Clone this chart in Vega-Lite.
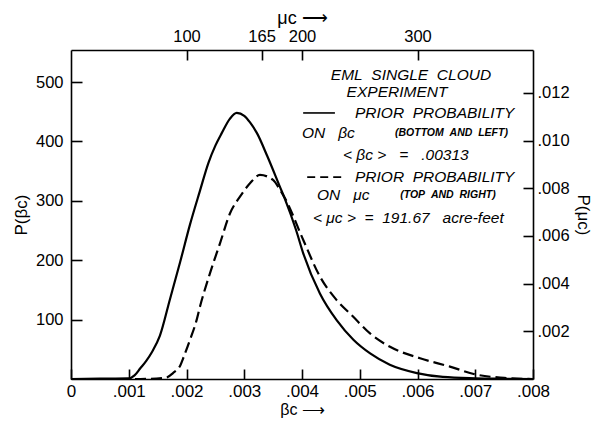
{
  "$schema": "https://vega.github.io/schema/vega-lite/v6.json",
  "width": 462,
  "height": 329,
  "autosize": {"type": "none"},
  "padding": {"left": 71, "top": 50, "right": 61, "bottom": 43},
  "background": "white",
  "config": {
    "view": {"stroke": null},
    "axis": {
      "grid": false,
      "labelFlush": false,
      "labelOverlap": false,
      "domainColor": "black",
      "tickColor": "black",
      "labelColor": "black",
      "titleColor": "black",
      "labelFont": "Liberation Sans",
      "titleFont": "Liberation Sans",
      "titleFontWeight": "normal",
      "labelFontSize": 16.5,
      "titleFontSize": 17,
      "domainWidth": 1.6,
      "tickWidth": 1.6
    }
  },
  "datasets": {
    "solid": [
      {"beta": 0, "p": 0},
      {"beta": 0.0005, "p": 0.5},
      {"beta": 0.001, "p": 1},
      {"beta": 0.0011, "p": 6},
      {"beta": 0.0012, "p": 18},
      {"beta": 0.0013, "p": 30},
      {"beta": 0.0014, "p": 45},
      {"beta": 0.00154, "p": 73},
      {"beta": 0.00171, "p": 133},
      {"beta": 0.00189, "p": 197},
      {"beta": 0.00206, "p": 260},
      {"beta": 0.00223, "p": 316},
      {"beta": 0.00238, "p": 364},
      {"beta": 0.0025, "p": 393},
      {"beta": 0.00261, "p": 414},
      {"beta": 0.00275, "p": 438},
      {"beta": 0.00287, "p": 448},
      {"beta": 0.003, "p": 443},
      {"beta": 0.0031, "p": 432},
      {"beta": 0.00322, "p": 414},
      {"beta": 0.0034, "p": 375},
      {"beta": 0.00362, "p": 323},
      {"beta": 0.0037, "p": 304},
      {"beta": 0.0039, "p": 250},
      {"beta": 0.00402, "p": 212},
      {"beta": 0.00431, "p": 144},
      {"beta": 0.0046, "p": 99},
      {"beta": 0.00489, "p": 66},
      {"beta": 0.00518, "p": 43},
      {"beta": 0.00552, "p": 24},
      {"beta": 0.00599, "p": 10},
      {"beta": 0.00644, "p": 3.5},
      {"beta": 0.007, "p": 1.2},
      {"beta": 0.0075, "p": 0.4},
      {"beta": 0.008, "p": 0}
    ],
    "dashed": [
      {"mu": 0, "pm": 0},
      {"mu": 60, "pm": 0},
      {"mu": 82, "pm": 0.00005},
      {"mu": 88.3, "pm": 0.00025},
      {"mu": 94.4, "pm": 0.00055},
      {"mu": 98, "pm": 0.00098},
      {"mu": 103, "pm": 0.00164},
      {"mu": 108.8, "pm": 0.00248},
      {"mu": 111.7, "pm": 0.00304},
      {"mu": 120.3, "pm": 0.00443},
      {"mu": 129, "pm": 0.00569},
      {"mu": 137.7, "pm": 0.00695},
      {"mu": 146.3, "pm": 0.00765},
      {"mu": 155, "pm": 0.00821},
      {"mu": 163.6, "pm": 0.00856},
      {"mu": 174.9, "pm": 0.00835},
      {"mu": 181, "pm": 0.00793},
      {"mu": 185.3, "pm": 0.00758},
      {"mu": 201.1, "pm": 0.00583},
      {"mu": 215.6, "pm": 0.00429},
      {"mu": 230, "pm": 0.00331},
      {"mu": 244.4, "pm": 0.00261},
      {"mu": 258.9, "pm": 0.00191},
      {"mu": 276.2, "pm": 0.00135},
      {"mu": 302.2, "pm": 0.00087},
      {"mu": 328.1, "pm": 0.00052},
      {"mu": 351.2, "pm": 0.00018},
      {"mu": 375, "pm": 0.00005},
      {"mu": 400, "pm": 0}
    ],
    "titleText": [
      {"beta": 0.005887, "p": 512, "t": "EML\u00a0\u00a0SINGLE\u00a0\u00a0CLOUD"},
      {"beta": 0.005645, "p": 483, "t": "EXPERIMENT"}
    ],
    "legendText": [
      {"beta": 0.004918, "p": 448, "t": "PRIOR\u00a0\u00a0PROBABILITY"},
      {"beta": 0.0040, "p": 414, "t": "ON\u00a0\u00a0\u00a0βc"},
      {"beta": 0.00471, "p": 377, "t": "<\u00a0βc\u00a0>\u00a0\u00a0\u00a0=\u00a0\u00a0\u00a0.00313"},
      {"beta": 0.004918, "p": 340, "t": "PRIOR\u00a0\u00a0PROBABILITY"},
      {"beta": 0.00426, "p": 310, "t": "ON\u00a0\u00a0\u00a0μc"},
      {"beta": 0.00419, "p": 271, "t": "<\u00a0μc\u00a0>\u00a0\u00a0=\u00a0\u00a0191.67\u00a0\u00a0\u00a0acre-feet"}
    ],
    "smallText": [
      {"beta": 0.00561, "p": 414, "t": "(BOTTOM\u00a0\u00a0AND\u00a0\u00a0LEFT)"},
      {"beta": 0.0057, "p": 310, "t": "(TOP\u00a0\u00a0AND\u00a0\u00a0RIGHT)"}
    ],
    "keySolid": [
      {"beta": 0.00402, "beta2": 0.00457, "p": 448}
    ],
    "keyDashed": [
      {"beta": 0.00409, "beta2": 0.00471, "p": 340}
    ]
  },
  "layer": [
    {
      "layer": [
        {
          "data": {"name": "solid"},
          "mark": {"type": "line", "color": "black", "strokeWidth": 2.2, "interpolate": "monotone"},
          "encoding": {
            "x": {
              "field": "beta",
              "type": "quantitative",
              "scale": {"domain": [0, 0.008], "nice": false, "zero": false},
              "axis": {
                "orient": "bottom",
                "values": [0, 0.001, 0.002, 0.003, 0.004, 0.005, 0.006, 0.007, 0.008],
                "labelExpr": "datum.value == 0 ? '0' : replace(format(datum.value, '.3f'), '0.', '.')",
                "labelFontSize": 17,
                "tickSize": -10,
                "labelPadding": 14,
                "title": "βc ⟶",
                "titleFontSize": 16,
                "titlePadding": 2
              }
            },
            "y": {
              "field": "p",
              "type": "quantitative",
              "scale": {"domain": [0, 554], "nice": false},
              "axis": {
                "orient": "left",
                "values": [100, 200, 300, 400, 500],
                "tickSize": -11,
                "labelPadding": 19,
                "title": "P(βc)",
                "titlePadding": 5
              }
            }
          }
        },
        {
          "data": {"name": "titleText"},
          "mark": {"type": "text", "align": "center", "baseline": "middle", "font": "Liberation Sans", "fontStyle": "italic", "fontSize": 15.5, "color": "black"},
          "encoding": {
            "x": {"field": "beta", "type": "quantitative"},
            "y": {"field": "p", "type": "quantitative"},
            "text": {"field": "t"}
          }
        },
        {
          "data": {"name": "legendText"},
          "mark": {"type": "text", "align": "left", "baseline": "middle", "font": "Liberation Sans", "fontStyle": "italic", "fontSize": 15.5, "color": "black"},
          "encoding": {
            "x": {"field": "beta", "type": "quantitative"},
            "y": {"field": "p", "type": "quantitative"},
            "text": {"field": "t"}
          }
        },
        {
          "data": {"name": "smallText"},
          "mark": {"type": "text", "align": "left", "baseline": "middle", "font": "Liberation Sans", "fontStyle": "italic", "fontWeight": "bold", "fontSize": 10.5, "color": "black"},
          "encoding": {
            "x": {"field": "beta", "type": "quantitative"},
            "y": {"field": "p", "type": "quantitative"},
            "text": {"field": "t"}
          }
        },
        {
          "data": {"name": "keySolid"},
          "mark": {"type": "rule", "color": "black", "strokeWidth": 1.6},
          "encoding": {
            "x": {"field": "beta", "type": "quantitative"},
            "x2": {"field": "beta2"},
            "y": {"field": "p", "type": "quantitative"}
          }
        },
        {
          "data": {"name": "keyDashed"},
          "mark": {"type": "rule", "color": "black", "strokeWidth": 1.6, "strokeDash": [8, 5]},
          "encoding": {
            "x": {"field": "beta", "type": "quantitative"},
            "x2": {"field": "beta2"},
            "y": {"field": "p", "type": "quantitative"}
          }
        }
      ]
    },
    {
      "data": {"name": "dashed"},
      "mark": {"type": "line", "color": "black", "strokeWidth": 2.2, "strokeDash": [11, 5], "interpolate": "monotone"},
      "encoding": {
        "x": {
          "field": "mu",
          "type": "quantitative",
          "scale": {"domain": [0, 400], "nice": false, "zero": false},
          "axis": {
            "orient": "top",
            "values": [100, 165, 200, 300],
            "tickSize": -10,
            "labelPadding": 16,
            "title": "μc ⟶",
            "titleFontSize": 18,
            "titlePadding": 1
          }
        },
        "y": {
          "field": "pm",
          "type": "quantitative",
          "scale": {"domain": [0, 0.0138], "nice": false},
          "axis": {
            "orient": "right",
            "values": [0.002, 0.004, 0.006, 0.008, 0.01, 0.012],
            "labelExpr": "replace(format(datum.value, '.3f'), '0.', '.')",
            "tickSize": -10,
            "labelPadding": 14,
            "title": "P(μc)",
            "titleAngle": 90,
            "titlePadding": 4
          }
        }
      }
    }
  ],
  "resolve": {
    "scale": {"x": "independent", "y": "independent"},
    "axis": {"x": "independent", "y": "independent"}
  }
}
